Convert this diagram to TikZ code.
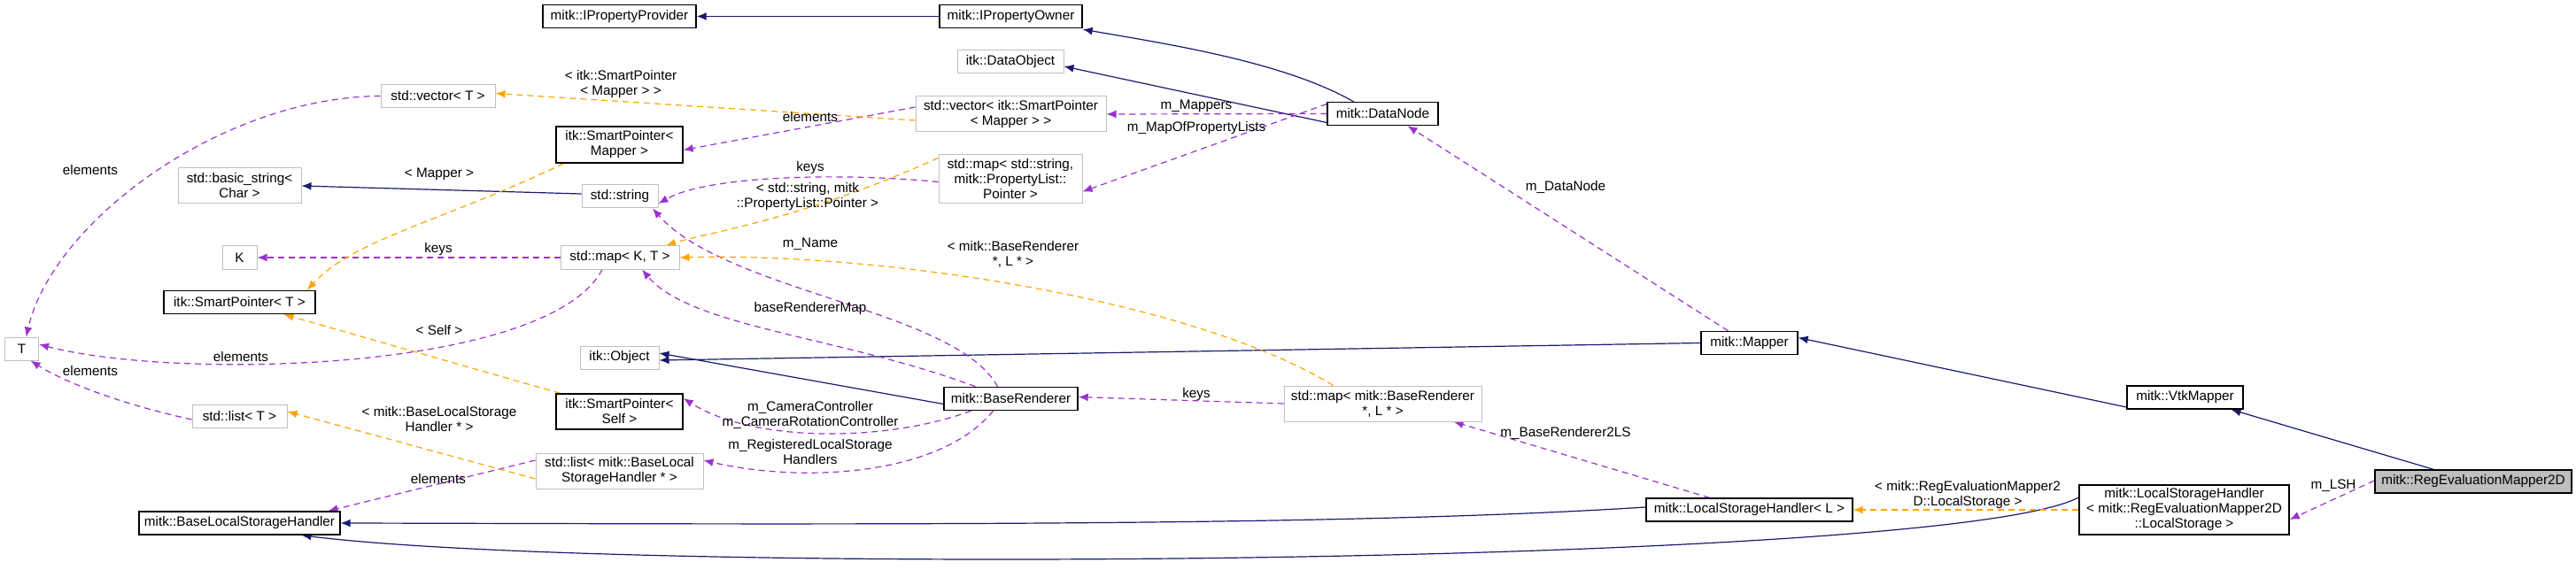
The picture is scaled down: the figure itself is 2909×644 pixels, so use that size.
\documentclass[tikz,border=0pt]{standalone}
\usepackage{fontspec}
\setmainfont{Liberation Sans}
\usetikzlibrary{arrows.meta,backgrounds}
\definecolor{navyc}{HTML}{191970}
\definecolor{purp}{HTML}{9A32CD}
\definecolor{orng}{HTML}{FFA500}
\definecolor{grayb}{HTML}{BFBFBF}
\begin{document}
\begin{tikzpicture}[x=1pt,y=-1pt,
  every node/.style={font=\fontsize{15.3}{17}\selectfont},
  box/.style={rectangle,inner sep=0pt,align=center,fill=white},
  doc/.style={box,draw=black,line width=1.4pt},
  und/.style={box,draw=grayb,line width=1pt},
  tip/.style={-{Latex[length=11pt,width=9pt]}},
  inh/.style={tip,draw=navyc,line width=1.2pt},
  use/.style={tip,draw=purp,line width=1.2pt,dash pattern=on 7pt off 5pt},
  tmpl/.style={tip,draw=orng,line width=1.2pt,dash pattern=on 7pt off 5pt},
  lbl/.style={inner sep=0pt,align=center}]
\useasboundingbox (0,0) rectangle (2909,644);
% nodes
\node[doc,minimum width=173,minimum height=26] (pp) at (699.5,18.5) {mitk::IPropertyProvider};
\node[doc,minimum width=161,minimum height=26] (po) at (1141.5,18.5) {mitk::IPropertyOwner};
\node[und,minimum width=120,minimum height=26] (dobj) at (1141,70) {itk::DataObject};
\node[und,minimum width=129,minimum height=26] (vecT) at (494.5,108.5) {std::vector< T >};
\node[und,minimum width=215,minimum height=40] (vecSP) at (1141.5,129) {std::vector< itk::SmartPointer\\< Mapper > >};
\node[doc,minimum width=125,minimum height=26] (dn) at (1561.5,128.5) {mitk::DataNode};
\node[doc,minimum width=143,minimum height=41] (spM) at (699.5,163.5) {itk::SmartPointer<\\Mapper >};
\node[und,minimum width=139,minimum height=40] (bstr) at (270.5,210) {std::basic\_string<\\Char >};
\node[und,minimum width=86,minimum height=26] (str) at (700,222) {std::string};
\node[und,minimum width=162,minimum height=55] (mapS) at (1141,202.5) {std::map< std::string,\\mitk::PropertyList::\\Pointer >};
\node[und,minimum width=39,minimum height=26] (K) at (270.5,291) {K};
\node[und,minimum width=134,minimum height=26] (mapKT) at (700,291) {std::map< K, T >};
\node[doc,minimum width=171,minimum height=26] (spT) at (270.5,341.5) {itk::SmartPointer< T >};
\node[und,minimum width=38,minimum height=26] (T) at (24.5,394) {T};
\node[und,minimum width=89,minimum height=26] (obj) at (699.5,404) {itk::Object};
\node[doc,minimum width=109,minimum height=26] (mapper) at (1975.5,387.5) {mitk::Mapper};
\node[doc,minimum width=151,minimum height=26] (br) at (1141.5,450.5) {mitk::BaseRenderer};
\node[und,minimum width=223,minimum height=40] (mapBR) at (1561.5,456) {std::map< mitk::BaseRenderer\\*, L * >};
\node[doc,minimum width=131,minimum height=26] (vtk) at (2467.5,449) {mitk::VtkMapper};
\node[doc,minimum width=143,minimum height=40] (spS) at (699.5,465) {itk::SmartPointer<\\Self >};
\node[und,minimum width=107,minimum height=26] (listT) at (270.5,470) {std::list< T >};
\node[und,minimum width=189,minimum height=40] (listB) at (699.5,532) {std::list< mitk::BaseLocal\\StorageHandler * >};
\node[doc,minimum width=227,minimum height=26] (blsh) at (270.5,591) {mitk::BaseLocalStorageHandler};
\node[doc,minimum width=233,minimum height=26] (lshL) at (1975.5,576) {mitk::LocalStorageHandler< L >};
\node[doc,minimum width=237,minimum height=56] (lshR) at (2466.5,576) {mitk::LocalStorageHandler\\< mitk::RegEvaluationMapper2D\\::LocalStorage >};
\node[doc,fill=grayb,minimum width=222,minimum height=26] (reg) at (2793,544) {mitk::RegEvaluationMapper2D};
\begin{pgfonlayer}{background}
% inheritance
\draw[inh] (po.west) -- (pp.east);
\draw[inh] ([xshift=-33]dn.north) .. controls (1450,70) and (1320,50) .. ([yshift=-1]po.south east);
\draw[inh] ([yshift=-10]dn.west) -- ([yshift=-5]dobj.east);
\draw[inh] ([yshift=3]str.west) -- (bstr.east);
\draw[inh] (mapper.west) -- ([yshift=-3]obj.east);
\draw[inh] ([yshift=-6]br.west) -- ([yshift=5]obj.east);
\draw[inh] ([yshift=-11]vtk.west) -- ([yshift=6]mapper.east);
\draw[inh] ([xshift=-45]reg.north) -- ([xshift=52]vtk.south);
\draw[inh] ([yshift=3]lshL.west) .. controls (1500,596) and (900,592) .. (blsh.east);
\draw[inh] ([yshift=14]lshR.west) .. controls (2200,640) and (700,650) .. ([xshift=70]blsh.south);
% usage
\draw[use] (vecT.west) .. controls (250,110) and (60,250) .. ([xshift=5]T.north);
\draw[use] ([yshift=8]vecSP.west) -- ([yshift=-6]spM.east);
\draw[use] (dn.west) -- (vecSP.east);
\draw[use] ([yshift=11]dn.west) -- ([yshift=-14]mapS.east);
\draw[use] ([yshift=-3]mapS.west) .. controls (950,195) and (800,198) .. ([yshift=-8]str.east);
\draw[use] (mapKT.west) -- (K.east);
\draw[use] ([xshift=-20]mapKT.south) .. controls (620,420) and (200,430) .. ([yshift=5]T.east);
\draw[use] ([yshift=-4]listT.west) .. controls (130,455) and (70,430) .. ([xshift=10]T.south);
\draw[use] ([xshift=-15]br.north) .. controls (1080,350) and (820,330) .. ([xshift=37]str.south);
\draw[use] ([xshift=-40]br.north) .. controls (950,380) and (780,370) .. ([xshift=25]mapKT.south);
\draw[use] ([xshift=-45]br.south) .. controls (1000,500) and (850,500) .. ([yshift=15]spS.east);
\draw[use] ([xshift=-20]br.south) .. controls (1060,540) and (900,545) .. ([yshift=12]listB.east);
\draw[use] ([yshift=12]listB.west) -- ([xshift=100]blsh.north);
\draw[use] (mapBR.west) -- ([yshift=2]br.east);
\draw[use] ([xshift=-24]mapper.north) -- ([xshift=28]dn.south);
\draw[use] ([xshift=-45]lshL.north) -- ([xshift=80]mapBR.south);
\draw[use] ([yshift=1]reg.west) -- ([yshift=-11]lshR.east);
% templates
\draw[tmpl] ([yshift=-7]vecSP.west) -- ([yshift=3]vecT.east);
\draw[tmpl] ([xshift=-63]spM.south) .. controls (500,250) and (400,270) .. ([xshift=-10]spT.north east);
\draw[tmpl] ([yshift=24]mapS.west) .. controls (900,250) and (800,262) .. ([xshift=52]mapKT.north);
\draw[tmpl] ([xshift=-56]mapBR.north) .. controls (1350,340) and (1000,285) .. (mapKT.east);
\draw[tmpl] ([xshift=-67]spS.north) -- ([xshift=50]spT.south);
\draw[tmpl] ([yshift=-9]listB.west) -- ([yshift=5]listT.east);
\draw[tmpl] (lshR.west) -- (lshL.east);
\end{pgfonlayer}
% labels
\node[lbl] (l1) at (102,192) {elements};
\node[lbl] (l2) at (915,132) {elements};
\node[lbl] (l3) at (1351,120) {m\_Mappers};
\node[lbl] (l4) at (1351,145) {m\_MapOfPropertyLists};
\node[lbl] (l5) at (915,190) {keys};
\node[lbl] (l6) at (495,282) {keys};
\node[lbl] (l7) at (272,403) {elements};
\node[lbl] (l8) at (102,419) {elements};
\node[lbl] (l9) at (915,276) {m\_Name};
\node[lbl] (l10) at (915,349) {baseRendererMap};
\node[lbl] (l11) at (915,469) {m\_CameraController\\m\_CameraRotationController};
\node[lbl] (l12) at (915,511) {m\_RegisteredLocalStorage\\Handlers};
\node[lbl] (l13) at (495,541) {elements};
\node[lbl] (l14) at (1351,446) {keys};
\node[lbl] (l15) at (1768,211) {m\_DataNode};
\node[lbl] (l16) at (1768,489) {m\_BaseRenderer2LS};
\node[lbl] (l17) at (2635,549) {m\_LSH};
\node[lbl] (l18) at (701,95) {< itk::SmartPointer\\< Mapper > >};
\node[lbl] (l19) at (496,197) {< Mapper >};
\node[lbl] (l20) at (912,222) {< std::string, mitk\\::PropertyList::Pointer >};
\node[lbl] (l21) at (1144,287) {< mitk::BaseRenderer\\*, L * >};
\node[lbl] (l22) at (496,373) {< Self >};
\node[lbl] (l23) at (496,474) {< mitk::BaseLocalStorage\\Handler * >};
\node[lbl] (l24) at (2222,559) {< mitk::RegEvaluationMapper2\\D::LocalStorage >};
\end{tikzpicture}
\end{document}
